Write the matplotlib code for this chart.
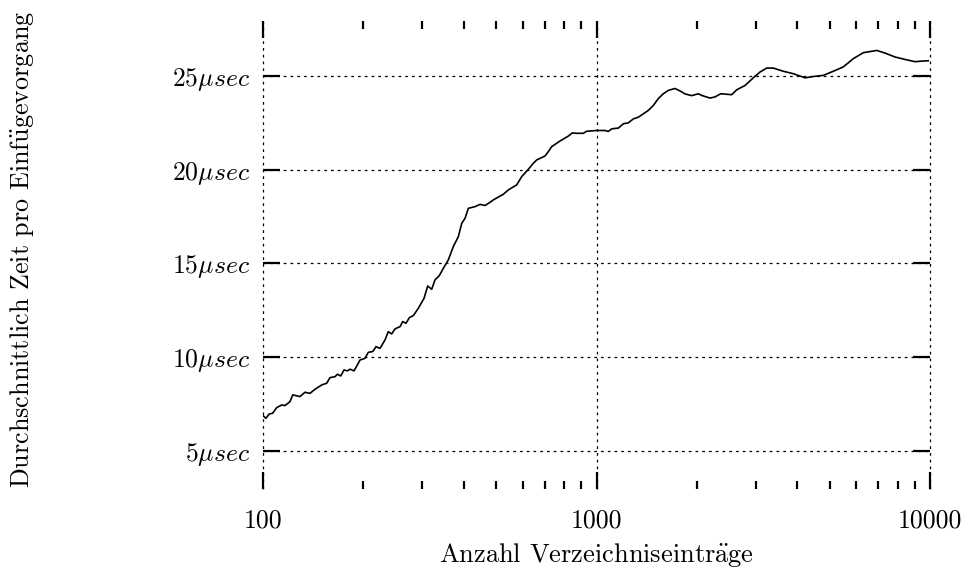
import numpy as np
import matplotlib
matplotlib.use("Agg")
import matplotlib.pyplot as plt
from matplotlib.ticker import LogLocator, NullFormatter

plt.rcParams['font.family'] = ['cmr10']
plt.rcParams['mathtext.fontset'] = 'cm'
plt.rcParams['axes.formatter.use_mathtext'] = True

# Anzahl Einträge und mittlere Zeit pro Einfügevorgang (µs)
eintraege = [100, 102, 104.4, 106.9, 109.9, 113.8, 116.4, 120.5, 122.8, 129.1,
             133.6, 138.3, 143.2, 150.0, 155.2, 158.8, 164.4, 167.1, 171.0, 175.0,
             179.0, 182.4, 187.5, 195.4, 202.2, 206.9, 213.3, 218.2, 224.3, 232.2,
             237.5, 243.2, 248.8, 257.6, 262.4, 268.5, 274.7, 282.4, 292.3, 304.0,
             311.8, 320.5, 327.9, 337.8, 347.3, 359.5, 372.1, 385.2, 394.4, 403.5,
             412.8, 432.3, 447.5, 463.3, 479.5, 490.6, 525.6, 543.9, 576.4, 596.6,
             624.5, 646.4, 661.8, 700.8, 717.0, 734.0, 777.4, 823.0, 846.1, 872.2,
             912.9, 934.5, 1001, 1060, 1085, 1111, 1163, 1204, 1246, 1290,
             1335, 1382, 1430, 1481, 1532, 1586, 1642, 1720, 1780, 1843,
             1930, 2020, 2068, 2189, 2266, 2357, 2543, 2633, 2788, 2953,
             3093, 3238, 3389, 3632, 3891, 4220, 4468, 4788, 5129, 5495,
             5888, 6310, 6922, 7330, 7856, 8414, 9016, 9443, 9883]
zeit_us = [6.88, 6.74, 6.97, 7.01, 7.31, 7.45, 7.42, 7.63, 7.99, 7.90,
           8.13, 8.07, 8.29, 8.52, 8.61, 8.91, 8.96, 9.09, 9.00, 9.32,
           9.27, 9.36, 9.27, 9.85, 9.94, 10.26, 10.30, 10.56, 10.47, 10.92,
           11.36, 11.24, 11.51, 11.63, 11.90, 11.81, 12.11, 12.22, 12.61, 13.14,
           13.80, 13.62, 14.12, 14.35, 14.74, 15.19, 15.90, 16.43, 17.14, 17.41,
           17.94, 18.03, 18.15, 18.09, 18.26, 18.39, 18.69, 18.92, 19.19, 19.63,
           20.02, 20.34, 20.52, 20.73, 20.96, 21.23, 21.53, 21.79, 21.96, 21.94,
           21.94, 22.05, 22.09, 22.09, 22.04, 22.18, 22.22, 22.45, 22.50, 22.71,
           22.80, 22.98, 23.16, 23.43, 23.79, 24.05, 24.23, 24.33, 24.20, 24.04,
           23.95, 24.05, 23.96, 23.82, 23.88, 24.05, 24.00, 24.26, 24.49, 24.90,
           25.21, 25.42, 25.42, 25.25, 25.12, 24.90, 24.97, 25.03, 25.25, 25.48,
           25.92, 26.24, 26.36, 26.22, 26.01, 25.88, 25.76, 25.79, 25.81]

x_ticks = [100, 1000, 10000]
x_labels = ['100', '1000', '10000']
y_ticks = [5, 10, 15, 20, 25]
y_labels = [r'$%d\mu sec$' % v for v in y_ticks]

fig = plt.figure(figsize=(9.68, 5.68), dpi=100)
ax = fig.add_axes([263 / 968, 1 - 489 / 568, 667 / 968, 468 / 568])

ax.plot(eintraege, zeit_us, color='black', linewidth=1.2)

ax.set_xscale('log')
ax.set_xlim(100, 10000)
ax.set_ylim(2.97, 27.93)

ax.set_xticks(x_ticks, x_labels)
ax.xaxis.set_minor_locator(LogLocator(base=10, subs=np.arange(2, 10)))
ax.xaxis.set_minor_formatter(NullFormatter())
ax.set_yticks(y_ticks, y_labels)

for s in ax.spines.values():
    s.set_visible(False)

ax.tick_params(axis='x', which='major', direction='in', length=12, width=1.6,
               top=True, bottom=True, labelsize=18.5, pad=14)
ax.tick_params(axis='x', which='minor', direction='in', length=5.5, width=1.6,
               top=True, bottom=True)
ax.tick_params(axis='y', which='major', direction='in', length=12, width=1.6,
               left=True, right=True, labelsize=18.5, pad=9)

ax.grid(True, which='major', color='black', linewidth=0.9,
        linestyle=(0, (2.2, 3.2)))
# Gitterlinien am Rand nicht halb abschneiden
for gl in ax.get_xgridlines() + ax.get_ygridlines():
    gl.set_clip_on(False)

ax.set_xlabel(r'Anzahl Verzeichniseintr$\ddot{\rm a}$ge', fontsize=19)
ax.xaxis.set_label_coords(0.5, -0.112)
fig.text(22 / 968, 1 - 249 / 568, r'Durchschnittlich Zeit pro Einf$\ddot{\rm u}$gevorgang',
         rotation=90, fontsize=18.8, ha='center', va='center')

fig.savefig('out.png', dpi=100)
